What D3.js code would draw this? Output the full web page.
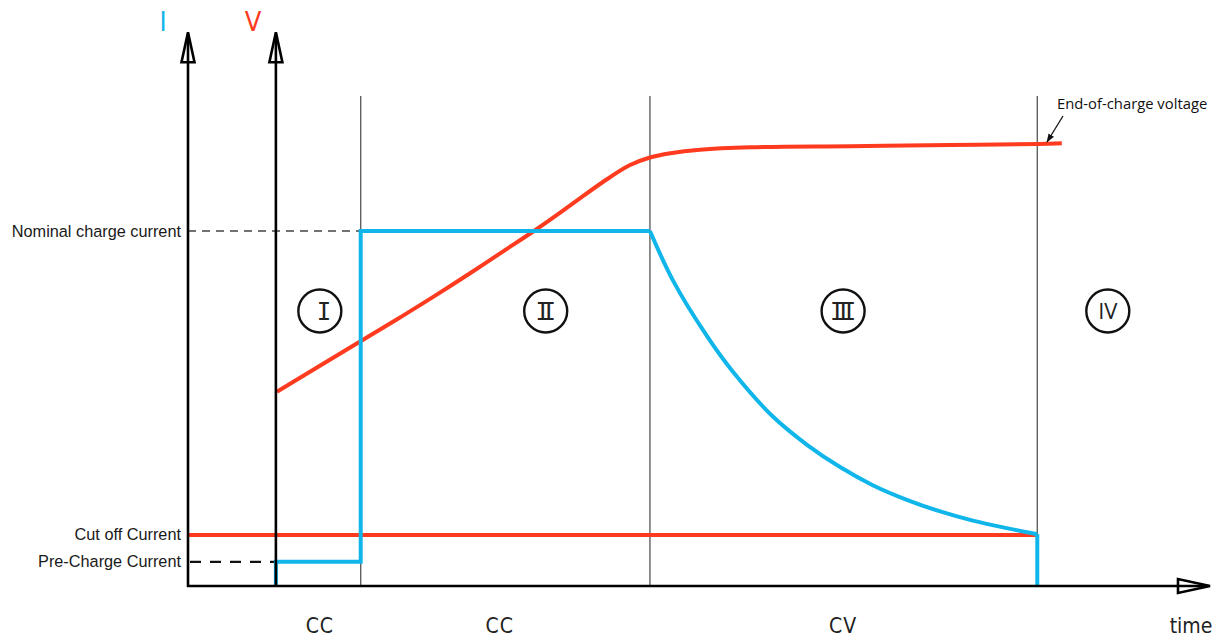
<!DOCTYPE html>
<html><head><meta charset="utf-8">
<script src="https://cdn.jsdelivr.net/npm/d3@7"></script>
<style>html,body{margin:0;padding:0;background:#fff;}svg{display:block;}</style>
</head><body>
<svg id="c" width="1219" height="638"></svg>
<script>
// ---- data ----
const phaseBounds = [8.6, 16.9, 45.2, 83.1];          // time of phase boundaries (start, I|II, II|III, III|IV)
const phaseLabels = ["I", "II", "III", "IV"];
const phaseLabelT = [12.9, 35.0, 64.1, 90.0];
const modeLabels = ["CC", "CC", "CV"];
const modeLabelT = [12.9, 30.5, 64.1];
const levelNames = ["Nominal charge current", "Cut off Current", "Pre-Charge Current"];
const levelValues = [1.0, 0.144, 0.068];
// current: pre-charge / CC steps
const currentStepT = [8.6, 8.6, 16.9, 16.9, 45.2];
const currentStepV = [0, 0.068, 0.068, 1.0, 1.0];
// current: CV decay
const decayT = [45.2, 47.5, 50.8, 53.3, 57.2, 60.6, 63.8, 67.0, 70.4, 73.6, 76.8, 80.1, 83.1];
const decayV = [1.0, 0.858, 0.703, 0.604, 0.478, 0.397, 0.335, 0.284, 0.242, 0.210, 0.184, 0.163, 0.146];
// voltage
const voltT = [8.7, 16.8, 21.0, 24.3, 27.6, 30.8, 34.1, 37.4, 40.6, 43.2, 45.2, 47.2, 50.1, 55.0, 64.8, 74.6, 83.1, 85.5];
const voltV = [0.547, 0.688, 0.761, 0.820, 0.881, 0.942, 1.005, 1.072, 1.138, 1.185, 1.207, 1.219, 1.229, 1.236, 1.239, 1.242, 1.245, 1.247];

const RED = "#ff3b1f", BLUE = "#10b6ea";
const svg = d3.select("#c");
const x = d3.scaleLinear().domain([0, 100]).range([188, 1210]);
const y = d3.scaleLinear().domain([0, 1]).range([586, 231]);
const yTop = 1.56;

// phase separator lines
svg.selectAll("line.sep").data(phaseBounds.slice(1)).join("line")
  .attr("x1", d => x(d)).attr("x2", d => x(d))
  .attr("y1", y(1.38)).attr("y2", y(0))
  .attr("stroke", "#555").attr("stroke-width", 1.3);

// dashed level lines
svg.append("line").attr("x1", x(0)).attr("x2", x(phaseBounds[1]))
  .attr("y1", y(levelValues[0])).attr("y2", y(levelValues[0]))
  .attr("stroke", "#444").attr("stroke-width", 1.3).attr("stroke-dasharray", "8,6");
svg.append("line").attr("x1", x(0) + 2).attr("x2", x(phaseBounds[0]))
  .attr("y1", y(levelValues[2])).attr("y2", y(levelValues[2]))
  .attr("stroke", "#111").attr("stroke-width", 2.2).attr("stroke-dasharray", "11,9");

// cutoff line
svg.append("line").attr("x1", x(0)).attr("x2", x(phaseBounds[3]))
  .attr("y1", y(levelValues[1])).attr("y2", y(levelValues[1]))
  .attr("stroke", RED).attr("stroke-width", 4);

// voltage curve
const smooth = d3.line().x(d => x(d[0])).y(d => y(d[1])).curve(d3.curveCatmullRom.alpha(0.5));
svg.append("path").attr("d", smooth(d3.zip(voltT, voltV)))
  .attr("fill", "none").attr("stroke", RED).attr("stroke-width", 4);

// current curve
const lin = d3.line().x(d => x(d[0])).y(d => y(d[1]));
svg.append("path").attr("d", lin(d3.zip(currentStepT, currentStepV)))
  .attr("fill", "none").attr("stroke", BLUE).attr("stroke-width", 4).attr("stroke-linejoin", "miter");
svg.append("path").attr("d", smooth(d3.zip(decayT, decayV)))
  .attr("fill", "none").attr("stroke", BLUE).attr("stroke-width", 4);
svg.append("path").attr("d", lin([[decayT[decayT.length-1], decayV[decayV.length-1]], [phaseBounds[3], 0]]))
  .attr("fill", "none").attr("stroke", BLUE).attr("stroke-width", 4);

// axes
function vArrow(xv) {
  const px = x(xv), tip = y(yTop);
  svg.append("line").attr("x1", px).attr("x2", px).attr("y1", y(0) + 1).attr("y2", tip + 2)
    .attr("stroke", "#000").attr("stroke-width", 2.6);
  svg.append("path").attr("d", `M${px},${tip} L${px - 6.5},${tip + 30} L${px + 6.5},${tip + 30} Z`)
    .attr("fill", "none").attr("stroke", "#000").attr("stroke-width", 2.6).attr("stroke-linejoin", "miter");
}
vArrow(0);
vArrow(phaseBounds[0]);
const tipX = x(100), ay = y(0);
svg.append("line").attr("x1", x(0) - 1).attr("x2", tipX - 2).attr("y1", ay).attr("y2", ay)
  .attr("stroke", "#000").attr("stroke-width", 2.6);
svg.append("path").attr("d", `M${tipX},${ay} L${tipX - 32},${ay - 7} L${tipX - 32},${ay + 7} Z`)
  .attr("fill", "none").attr("stroke", "#000").attr("stroke-width", 2.6);

// axis letters
svg.append("text").attr("x", 163).attr("y", 31).attr("text-anchor", "middle")
  .attr("font-family", "DejaVu Sans Condensed, DejaVu Sans").attr("font-size", 27).attr("fill", BLUE).text("I");
svg.append("text").attr("x", 253).attr("y", 31).attr("text-anchor", "middle")
  .attr("font-family", "DejaVu Sans Condensed, DejaVu Sans").attr("font-size", 27).attr("fill", RED).text("V");

// level labels
svg.selectAll("text.lvl").data(levelNames).join("text")
  .attr("x", 181).attr("y", (d, i) => y(levelValues[i]) + 5.5)
  .attr("text-anchor", "end").attr("font-family", "Liberation Sans, Arial").attr("font-size", 16.3)
  .attr("fill", "#1a1a1a").text(d => d);

// phase circles
const cy = 311;
const romanSize = 24, romanLS = -8.5;
const g = svg.selectAll("g.ph").data(phaseLabels).join("g")
  .attr("transform", (d, i) => `translate(${x(phaseLabelT[i])},${cy})`);
g.append("circle").attr("r", 21.5).attr("fill", "none").attr("stroke", "#111").attr("stroke-width", 2.4);
g.append("text").attr("text-anchor", "middle")
  .attr("y", (d, i) => i < 3 ? 8.5 : 8)
  .attr("x", (d, i) => i < 3 && d.length > 1 ? romanLS / 2 : 0)
  .attr("font-family", (d, i) => i < 3 ? "DejaVu Sans Mono" : "Open Sans, DejaVu Sans")
  .attr("font-weight", "normal")
  .attr("letter-spacing", (d, i) => i < 3 ? romanLS : 0)
  .attr("font-size", (d, i) => i < 3 ? romanSize : 22).attr("fill", "#222").text(d => d);

// mode labels
svg.selectAll("text.mode").data(modeLabels).join("text")
  .attr("x", (d, i) => x(modeLabelT[i])).attr("y", 633).attr("text-anchor", "middle")
  .attr("font-family", "DejaVu Sans Condensed, DejaVu Sans").attr("font-size", 21).attr("fill", "#222")
  .attr("letter-spacing", 1).text(d => d);
svg.append("text").attr("x", 1191).attr("y", 633).attr("text-anchor", "middle")
  .attr("font-family", "DejaVu Sans Condensed, DejaVu Sans").attr("font-size", 21).attr("fill", "#222").text("time");

// end-of-charge annotation
svg.append("text").attr("x", 1057).attr("y", 109)
  .attr("font-family", "Open Sans, DejaVu Sans").attr("font-size", 14.8).attr("fill", "#111").text("End-of-charge voltage");
svg.append("defs").append("marker").attr("id", "ah").attr("viewBox", "0 0 10 10")
  .attr("refX", 9).attr("refY", 5).attr("markerWidth", 9).attr("markerHeight", 9).attr("orient", "auto")
  .attr("markerUnits", "userSpaceOnUse")
  .append("path").attr("d", "M0,1.5 L10,5 L0,8.5 Z").attr("fill", "#111");
svg.append("line").attr("x1", 1063).attr("y1", 116).attr("x2", 1047).attr("y2", 142)
  .attr("stroke", "#111").attr("stroke-width", 1.3).attr("marker-end", "url(#ah)");
</script>
</body></html>
